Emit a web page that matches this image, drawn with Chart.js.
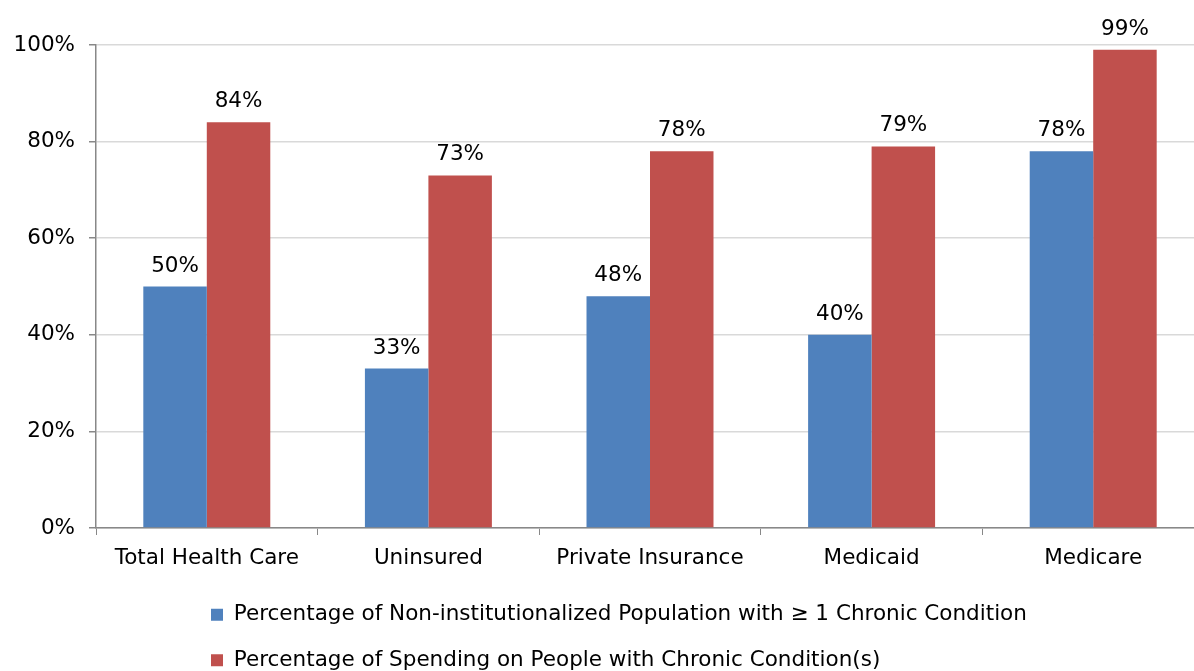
<!DOCTYPE html>
<html>
<head>
<meta charset="utf-8">
<script src="https://cdn.jsdelivr.net/npm/chart.js@4/dist/chart.umd.min.js"></script>
<style>
  html, body { margin: 0; padding: 0; overflow: hidden; background: #fff; }
  #wrap { width: 1204px; height: 681px; }
</style>
</head>
<body>
<div id="wrap"><canvas id="chart"></canvas></div>
<script>
const categories = ['Total Health Care', 'Uninsured', 'Private Insurance', 'Medicaid', 'Medicare']
const populationPct = [50, 33, 48, 40, 78]
const spendingPct = [84, 73, 78, 79, 99]
const seriesNames = [
    'Percentage of Non-institutionalized Population with \u2265 1 Chronic Condition',
    'Percentage of Spending on People with Chronic Condition(s)'
]

const FONT = 'DejaVu Sans'
const SIZE = 21.5

// draws the value above each bar
const barLabels = {
    id: 'barLabels',
    afterDatasetsDraw(chart) {
        const ctx = chart.ctx
        ctx.save()
        ctx.font = SIZE + 'px "' + FONT + '"'
        ctx.fillStyle = '#000'
        ctx.textAlign = 'center'
        ctx.textBaseline = 'alphabetic'
        chart.data.datasets.forEach((ds, i) => {
            chart.getDatasetMeta(i).data.forEach((bar, j) => {
                ctx.fillText(ds.data[j] + '%', bar.x, bar.y - 15)
            })
        })
        ctx.restore()
    }
}

// legend rows start at the same x, block sits roughly centred
const legendShift = {
    id: 'legendShift',
    afterLayout(chart) {
        chart.legend.left += 187
        chart.legend.right += 187
    }
}

new Chart(document.getElementById('chart').getContext('2d'), {
    type: 'bar',
    data: {
        labels: categories,
        datasets: [
            {
                label: seriesNames[0],
                data: populationPct,
                backgroundColor: '#4f81bd',
                categoryPercentage: 0.573,
                barPercentage: 1.0
            },
            {
                label: seriesNames[1],
                data: spendingPct,
                backgroundColor: '#c0504d',
                categoryPercentage: 0.573,
                barPercentage: 1.0
            }
        ]
    },
    options: {
        responsive: true,
        maintainAspectRatio: false,
        animation: false,
        layout: { padding: { top: 45, left: 0, right: 0, bottom: 0 } },
        plugins: {
            tooltip: { enabled: false },
            legend: {
                position: 'bottom',
                align: 'start',
                labels: {
                    boxWidth: 12,
                    boxHeight: 12,
                    padding: 24,
                    color: '#000',
                    font: { family: FONT, size: SIZE }
                }
            }
        },
        scales: {
            x: {
                grid: { offset: true, drawOnChartArea: false, tickLength: 7, color: '#888' },
                border: { color: '#888', width: 1.5 },
                ticks: { color: '#000', padding: 11, font: { family: FONT, size: SIZE } },
                afterFit(s) { s.height = 52 }
            },
            y: {
                min: 0,
                max: 100,
                ticks: {
                    stepSize: 20,
                    color: '#000',
                    padding: 14,
                    font: { family: FONT, size: SIZE },
                    callback: (v) => v + '%'
                },
                grid: { color: '#d9d9d9', lineWidth: 1.5, tickLength: 7, tickColor: '#888' },
                border: { color: '#888', width: 1.5 },
                afterFit(s) { s.width = 96 }
            }
        }
    },
    plugins: [barLabels, legendShift]
})
</script>
</body>
</html>
